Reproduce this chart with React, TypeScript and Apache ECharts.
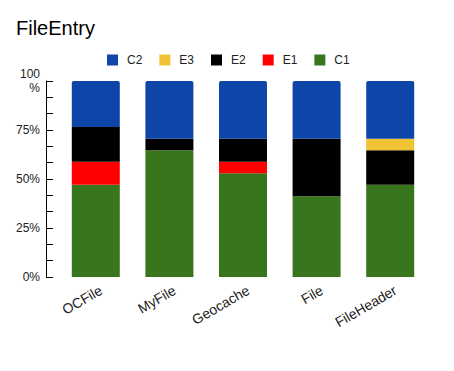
import React, { useEffect, useRef } from "react";
import * as echarts from "echarts";

const categories = ["OCFile", "MyFile", "Geocache", "File", "FileHeader"];
const c1Counts = [8, 11, 9, 7, 8];
const e1Counts = [2, 0, 1, 0, 0];
const e2Counts = [3, 1, 2, 5, 3];
const e3Counts = [0, 0, 0, 0, 1];
const c2Counts = [4, 5, 5, 5, 5];
const yTicks = [0, 25, 50, 75, 100];

const seriesDefs = [
  { name: "C1", data: c1Counts, color: "#38761d" },
  { name: "E1", data: e1Counts, color: "#ff0000" },
  { name: "E2", data: e2Counts, color: "#000000" },
  { name: "E3", data: e3Counts, color: "#f1c232" },
  { name: "C2", data: c2Counts, color: "#0e45a8" },
];
const legendOrder = ["C2", "E3", "E2", "E1", "C1"];

export default function App() {
  const ref = useRef<HTMLDivElement>(null);
  useEffect(() => {
    if (!ref.current) return;
    const chart = echarts.init(ref.current, undefined, { renderer: "svg" });
    const totals = categories.map((_, i) =>
      seriesDefs.reduce((s, d) => s + d.data[i], 0)
    );
    const font = "Liberation Sans, Arial, sans-serif";
    chart.setOption({
      animation: false,
      textStyle: { fontFamily: font },
      title: {
        text: "FileEntry",
        left: 11,
        top: 13,
        textStyle: { fontSize: 20, fontWeight: "normal", color: "#000", fontFamily: font },
      },
      legend: {
        data: legendOrder,
        left: 107,
        top: 54,
        padding: 0,
        itemWidth: 11,
        itemHeight: 11,
        itemGap: 17,
        icon: "rect",
        textStyle: { fontSize: 12, color: "#222", fontFamily: font, padding: [0, 0, 0, 4] },
      },
      grid: { left: 59, right: 27, top: 81, bottom: 94, containLabel: false },
      xAxis: {
        type: "category",
        data: categories,
        axisLine: { show: false },
        axisTick: { show: false },
        axisLabel: {
          rotate: 30,
          margin: 15,
          fontSize: 14,
          color: "#222",
          fontFamily: font,
          interval: 0,
          padding: [0, -6, 0, 0],
        },
      },
      yAxis: {
        type: "value",
        min: yTicks[0],
        max: yTicks[yTicks.length - 1],
        interval: 25,
        offset: 13,
        axisLine: { show: true, lineStyle: { color: "#000", width: 1 } },
        axisTick: { show: true, inside: true, length: 7, lineStyle: { color: "#000" } },
        minorTick: { show: true, splitNumber: 3, length: 7, lineStyle: { color: "#000" } },
        splitLine: { show: false },
        axisLabel: {
          margin: 6,
          fontSize: 12,
          color: "#222",
          fontFamily: font,
          lineHeight: 14,
          formatter: (v: number) => (v === 100 ? "100\n%" : v + "%"),
        },
      },
      series: seriesDefs.map((d) => ({
        name: d.name,
        type: "bar",
        stack: "total",
        barWidth: 48,
        itemStyle: {
          color: d.color,
          borderRadius: d.name === "C2" ? [2, 2, 0, 0] : 0,
        },
        data: d.data.map((v, i) => (v / totals[i]) * 100),
      })),
    });
    return () => chart.dispose();
  }, []);
  return (
    <div
      ref={ref}
      style={{ position: "fixed", left: 0, top: 0, width: 454, height: 371, background: "#fff" }}
    />
  );
}
